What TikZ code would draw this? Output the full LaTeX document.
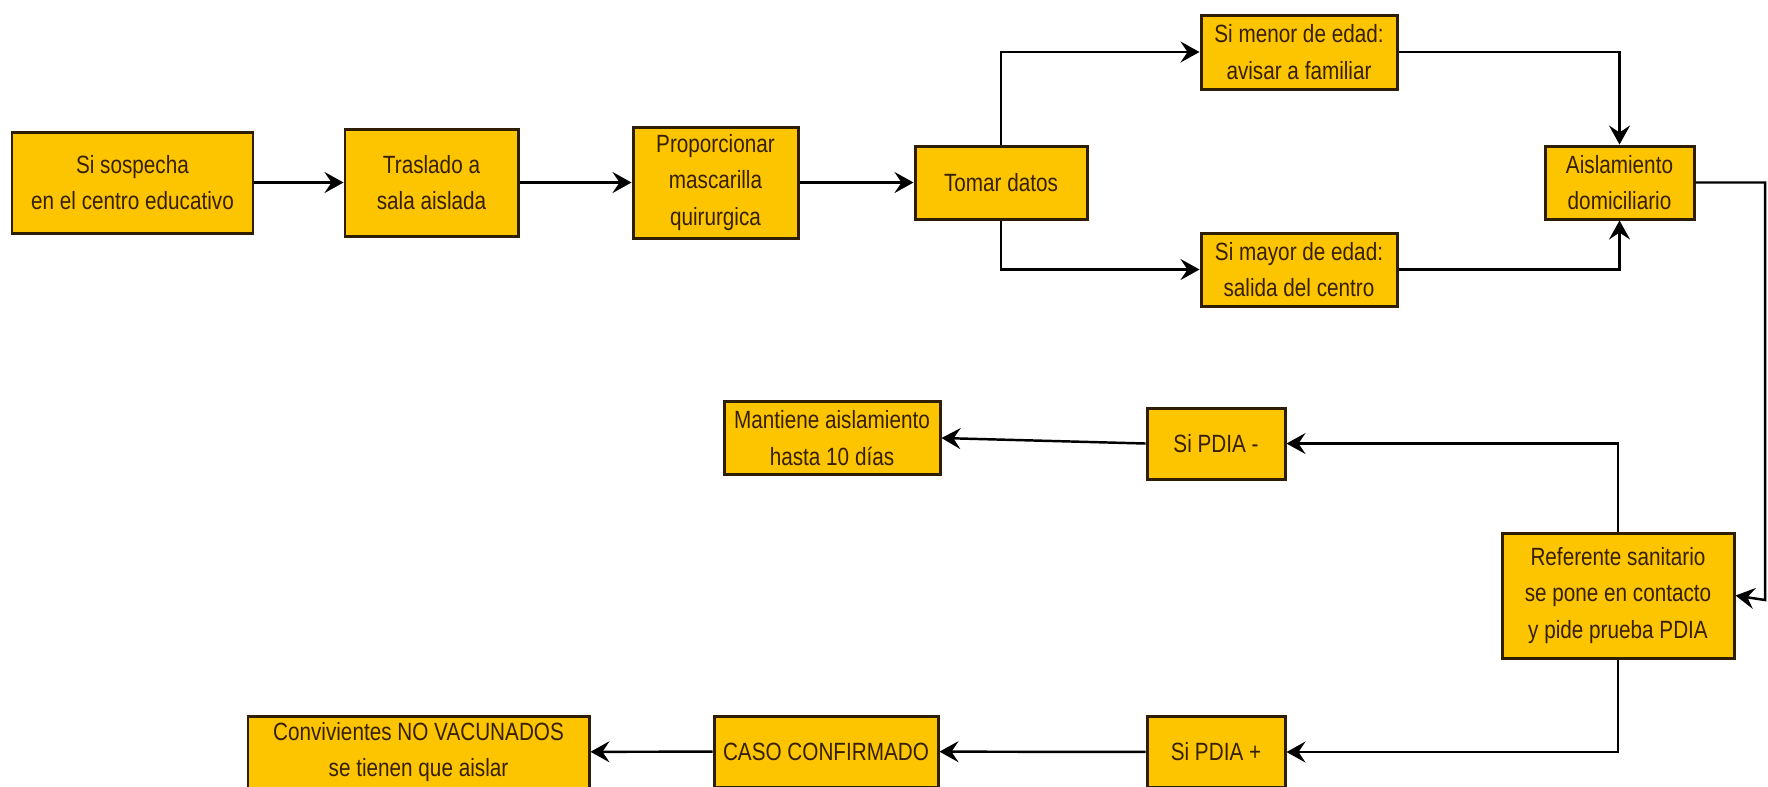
\documentclass[tikz,border=0pt]{standalone}
\usepackage{fontspec}
\setmainfont{Liberation Sans}[FakeStretch=0.83]
\usetikzlibrary{arrows.meta}
\definecolor{boxfill}{RGB}{252,197,0}
\definecolor{boxline}{RGB}{45,30,5}
\definecolor{boxtext}{RGB}{55,32,0}

\begin{document}
\begin{tikzpicture}[x=0.1mm,y=-0.1mm,
        box/.style={draw=boxline,line width=0.85pt,fill=boxfill,text=boxtext,align=center,inner sep=0pt,font=\fontsize{7.1}{10.3}\selectfont},
        flow/.style={-{Stealth[length=1.9mm,width=2.1mm,inset=0.7mm]},line width=0.7pt}]
        \useasboundingbox (0,0) rectangle (1768,786);
        \node[box,minimum width=24.1mm,minimum height=10.1mm] (sospecha) at (132.5,182.5) {Si sospecha\\en el centro educativo};
        \node[box,minimum width=17.3mm,minimum height=10.7mm] (traslado) at (431.5,182.5) {Traslado a\\sala aislada};
        \node[box,minimum width=16.5mm,minimum height=11.1mm] (mascarilla) at (715.5,182.5) {Proporcionar\\mascarilla\\quirurgica};
        \node[box,minimum width=17.2mm,minimum height=7.3mm] (datos) at (1001,182.5) {Tomar datos};
        \node[box,minimum width=19.6mm,minimum height=7.4mm] (menor) at (1299,52) {Si menor de edad:\\avisar a familiar};
        \node[box,minimum width=19.6mm,minimum height=7.3mm] (mayor) at (1299,269.5) {Si mayor de edad:\\salida del centro};
        \node[box,minimum width=14.9mm,minimum height=7.3mm] (aislamiento) at (1619.5,182.5) {Aislamiento\\domiciliario};
        \node[box,minimum width=23.2mm,minimum height=12.5mm] (referente) at (1618,595.5) {Referente sanitario\\se pone en contacto\\y pide prueba PDIA};
        \node[box,minimum width=13.8mm,minimum height=7.1mm] (negativo) at (1216,443.5) {Si PDIA -};
        \node[box,minimum width=21.6mm,minimum height=7.3mm] (mantiene) at (832,438) {Mantiene aislamiento\\hasta 10 días};
        \node[box,minimum width=13.8mm,minimum height=7.1mm] (positivo) at (1216,752) {Si PDIA +};
        \node[box,minimum width=22.4mm,minimum height=7.1mm] (confirmado) at (826,751.5) {CASO CONFIRMADO};
        \node[box,minimum width=34.1mm,minimum height=7.2mm] (convivientes) at (418.5,752) {Convivientes NO VACUNADOS\\se tienen que aislar};
        \coordinate (borde1) at (1765,182.5);
        \coordinate (borde2) at (1765,600);
        \draw[flow] (sospecha) -- (traslado);
        \draw[flow] (traslado) -- (mascarilla);
        \draw[flow] (mascarilla) -- (datos);
        \draw[flow] (datos.north) |- (menor.west);
        \draw[flow] (datos.south) |- (mayor.west);
        \draw[flow] (menor.east) -| (aislamiento.north);
        \draw[flow] (mayor.east) -| (aislamiento.south);
        \draw[flow] (aislamiento.east) -- (borde1) -- (borde2) -- (referente.east);
        \draw[flow] (referente.north) |- (negativo.east);
        \draw[flow] (negativo.west) -- (mantiene.east);
        \draw[flow] (referente.south) |- (positivo.east);
        \draw[flow] (positivo) -- (confirmado);
        \draw[flow] (confirmado) -- (convivientes);
    \end{tikzpicture}
\end{document}
